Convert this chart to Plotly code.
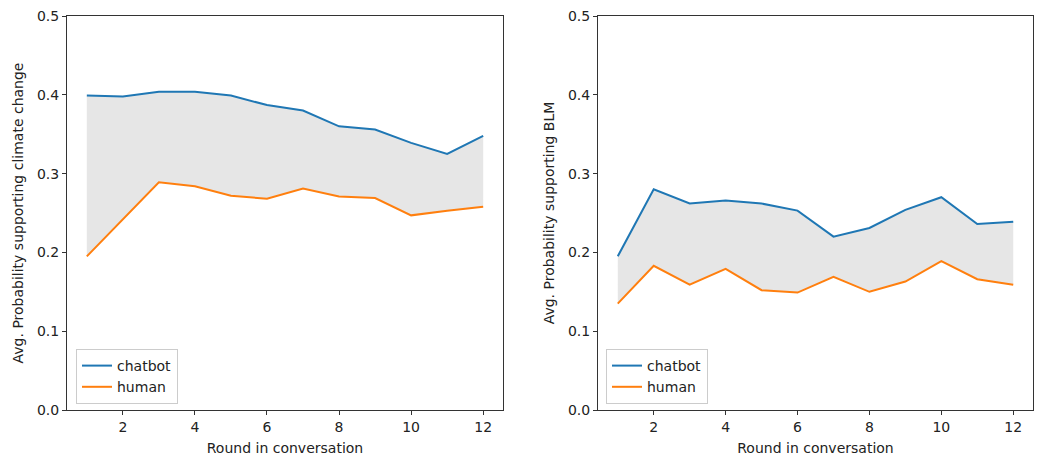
import plotly.graph_objects as go

rounds = [1, 2, 3, 4, 5, 6, 7, 8, 9, 10, 11, 12]
climate_chatbot = [0.399, 0.398, 0.404, 0.404, 0.399, 0.387, 0.380, 0.360, 0.356, 0.339, 0.325, 0.348]
climate_human = [0.195, 0.242, 0.289, 0.284, 0.272, 0.268, 0.281, 0.271, 0.269, 0.247, 0.253, 0.258]
blm_chatbot = [0.195, 0.280, 0.262, 0.266, 0.262, 0.253, 0.220, 0.231, 0.254, 0.270, 0.236, 0.239]
blm_human = [0.135, 0.183, 0.159, 0.179, 0.152, 0.149, 0.169, 0.150, 0.163, 0.189, 0.166, 0.159]
y_titles = ["Avg. Probability supporting climate change", "Avg. Probability supporting BLM"]
x_title = "Round in conversation"

BLUE = "#1f77b4"
ORANGE = "#ff7f0e"
FONT = "DejaVu Sans"
FS = 14

W, H = 1048, 460


def px_x(p):
    return p / W


def px_y(p):
    return 1 - p / H


fig = go.Figure()

panels = [(climate_chatbot, climate_human, "x", "y", "legend"),
          (blm_chatbot, blm_human, "x2", "y2", "legend2")]

for chat, hum, xa, ya, lg in panels:
    fig.add_trace(go.Scatter(
        x=rounds + rounds[::-1], y=chat + hum[::-1], fill="toself",
        fillcolor="rgba(128,128,128,0.2)", line=dict(width=0), mode="lines",
        showlegend=False, hoverinfo="skip", xaxis=xa, yaxis=ya))
    fig.add_trace(go.Scatter(x=rounds, y=chat, mode="lines", name="chatbot",
                             line=dict(color=BLUE, width=2), xaxis=xa, yaxis=ya, legend=lg))
    fig.add_trace(go.Scatter(x=rounds, y=hum, mode="lines", name="human",
                             line=dict(color=ORANGE, width=2), xaxis=xa, yaxis=ya, legend=lg))

axis_common = dict(showline=True, mirror=True, linecolor="#333", linewidth=1,
                   ticks="outside", ticklen=4, tickcolor="#333", showgrid=False,
                   zeroline=False, tickfont=dict(family=FONT, size=FS, color="#222"),
                   automargin=False)

xcommon = dict(range=[0.45, 12.55], tickvals=[2, 4, 6, 8, 10, 12],
               title=dict(text=x_title, standoff=9, font=dict(family=FONT, size=FS)),
               **axis_common)
ycommon = dict(domain=[px_y(410), px_y(16)], range=[0, 0.5],
               tickvals=[0, 0.1, 0.2, 0.3, 0.4, 0.5], tickformat=".1f", **axis_common)

fig.update_layout(
    width=W, height=H,
    margin=dict(l=0, r=0, t=0, b=0),
    paper_bgcolor="white", plot_bgcolor="white",
    font=dict(family=FONT, size=FS, color="#222"),
    xaxis=dict(domain=[px_x(67), px_x(503)], anchor="y", **xcommon),
    yaxis=dict(anchor="x", title=dict(text=y_titles[0], standoff=10, font=dict(family=FONT, size=FS)),
               **ycommon),
    xaxis2=dict(domain=[px_x(598), px_x(1033)], anchor="y2", **xcommon),
    yaxis2=dict(anchor="x2", title=dict(text=y_titles[1], standoff=10, font=dict(family=FONT, size=FS)),
                **ycommon),
    legend=dict(x=px_x(76), y=px_y(404), xanchor="left", yanchor="bottom",
                bgcolor="white", bordercolor="#ccc", borderwidth=1,
                font=dict(family=FONT, size=FS), tracegroupgap=0),
    legend2=dict(x=px_x(606), y=px_y(404), xanchor="left", yanchor="bottom",
                 bgcolor="white", bordercolor="#ccc", borderwidth=1,
                 font=dict(family=FONT, size=FS), tracegroupgap=0),
)

fig.write_html("out.html", config={"displayModeBar": False},
               post_script="document.body.style.margin='0';document.body.style.overflow='hidden';")
